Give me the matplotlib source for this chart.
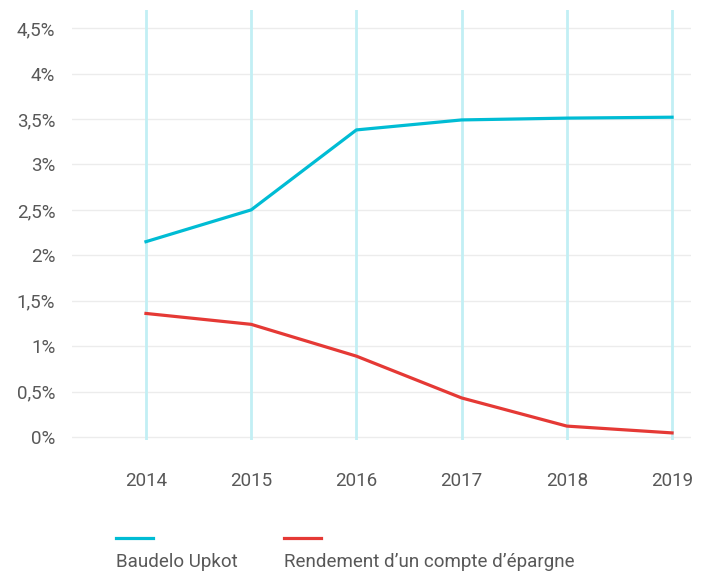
import matplotlib.pyplot as plt
from matplotlib.lines import Line2D

plt.rcParams['font.family'] = ['Roboto', 'DejaVu Sans']

years = [2014, 2015, 2016, 2017, 2018, 2019]
upkot = [2.15, 2.50, 3.38, 3.49, 3.51, 3.52]
epargne = [1.36, 1.24, 0.89, 0.43, 0.12, 0.045]
yticks = [0, 0.5, 1, 1.5, 2, 2.5, 3, 3.5, 4, 4.5]
ylabels = ["0%", "0,5%", "1%", "1,5%", "2%", "2,5%", "3%", "3,5%", "4%", "4,5%"]

cyan = "#00bcd4"
red = "#e53935"
txt = "#585858"

fig = plt.figure(figsize=(7.04, 5.72), dpi=100)
ax = fig.add_axes([72/704, 1 - 440/572, (691-72)/704, (440-10)/572])

# horizontal grid only at the ticks
for v in yticks:
    ax.axhline(v, color="#ececec", lw=1, zorder=0)
# vertical year lines, light cyan
for yr in years:
    ax.axvline(yr, color="#c2eff4", lw=2.0, zorder=1)

ax.plot(years, upkot, color=cyan, lw=2.3, zorder=3)
ax.plot(years, epargne, color=red, lw=2.3, zorder=3)

ax.set_xlim(2013.297, 2019.18)
ax.set_ylim(-0.033, 4.70)
ax.set_yticks(yticks)
ax.set_yticklabels(ylabels)
ax.set_xticks(years)
ax.set_xticklabels([str(y) for y in years])
ax.tick_params(length=0, labelsize=13.5, labelcolor=txt)
ax.tick_params(axis='x', pad=23)
ax.tick_params(axis='y', pad=12)
for s in ax.spines.values():
    s.set_visible(False)

# legend under the chart: short line above label
fig.add_artist(Line2D([116/704, 153/704], [1-538/572, 1-538/572], color=cyan, lw=2.3))
fig.add_artist(Line2D([284/704, 321/704], [1-538/572, 1-538/572], color=red, lw=2.3))
fig.text(116/704, 1-562/572, "Baudelo Upkot", fontsize=13.5, color=txt, va="center", ha="left")
fig.text(284/704, 1-562/572, "Rendement d\u2019un compte d\u2019\u00e9pargne", fontsize=13.5, color=txt, va="center", ha="left")

plt.savefig("out.png", dpi=100)
